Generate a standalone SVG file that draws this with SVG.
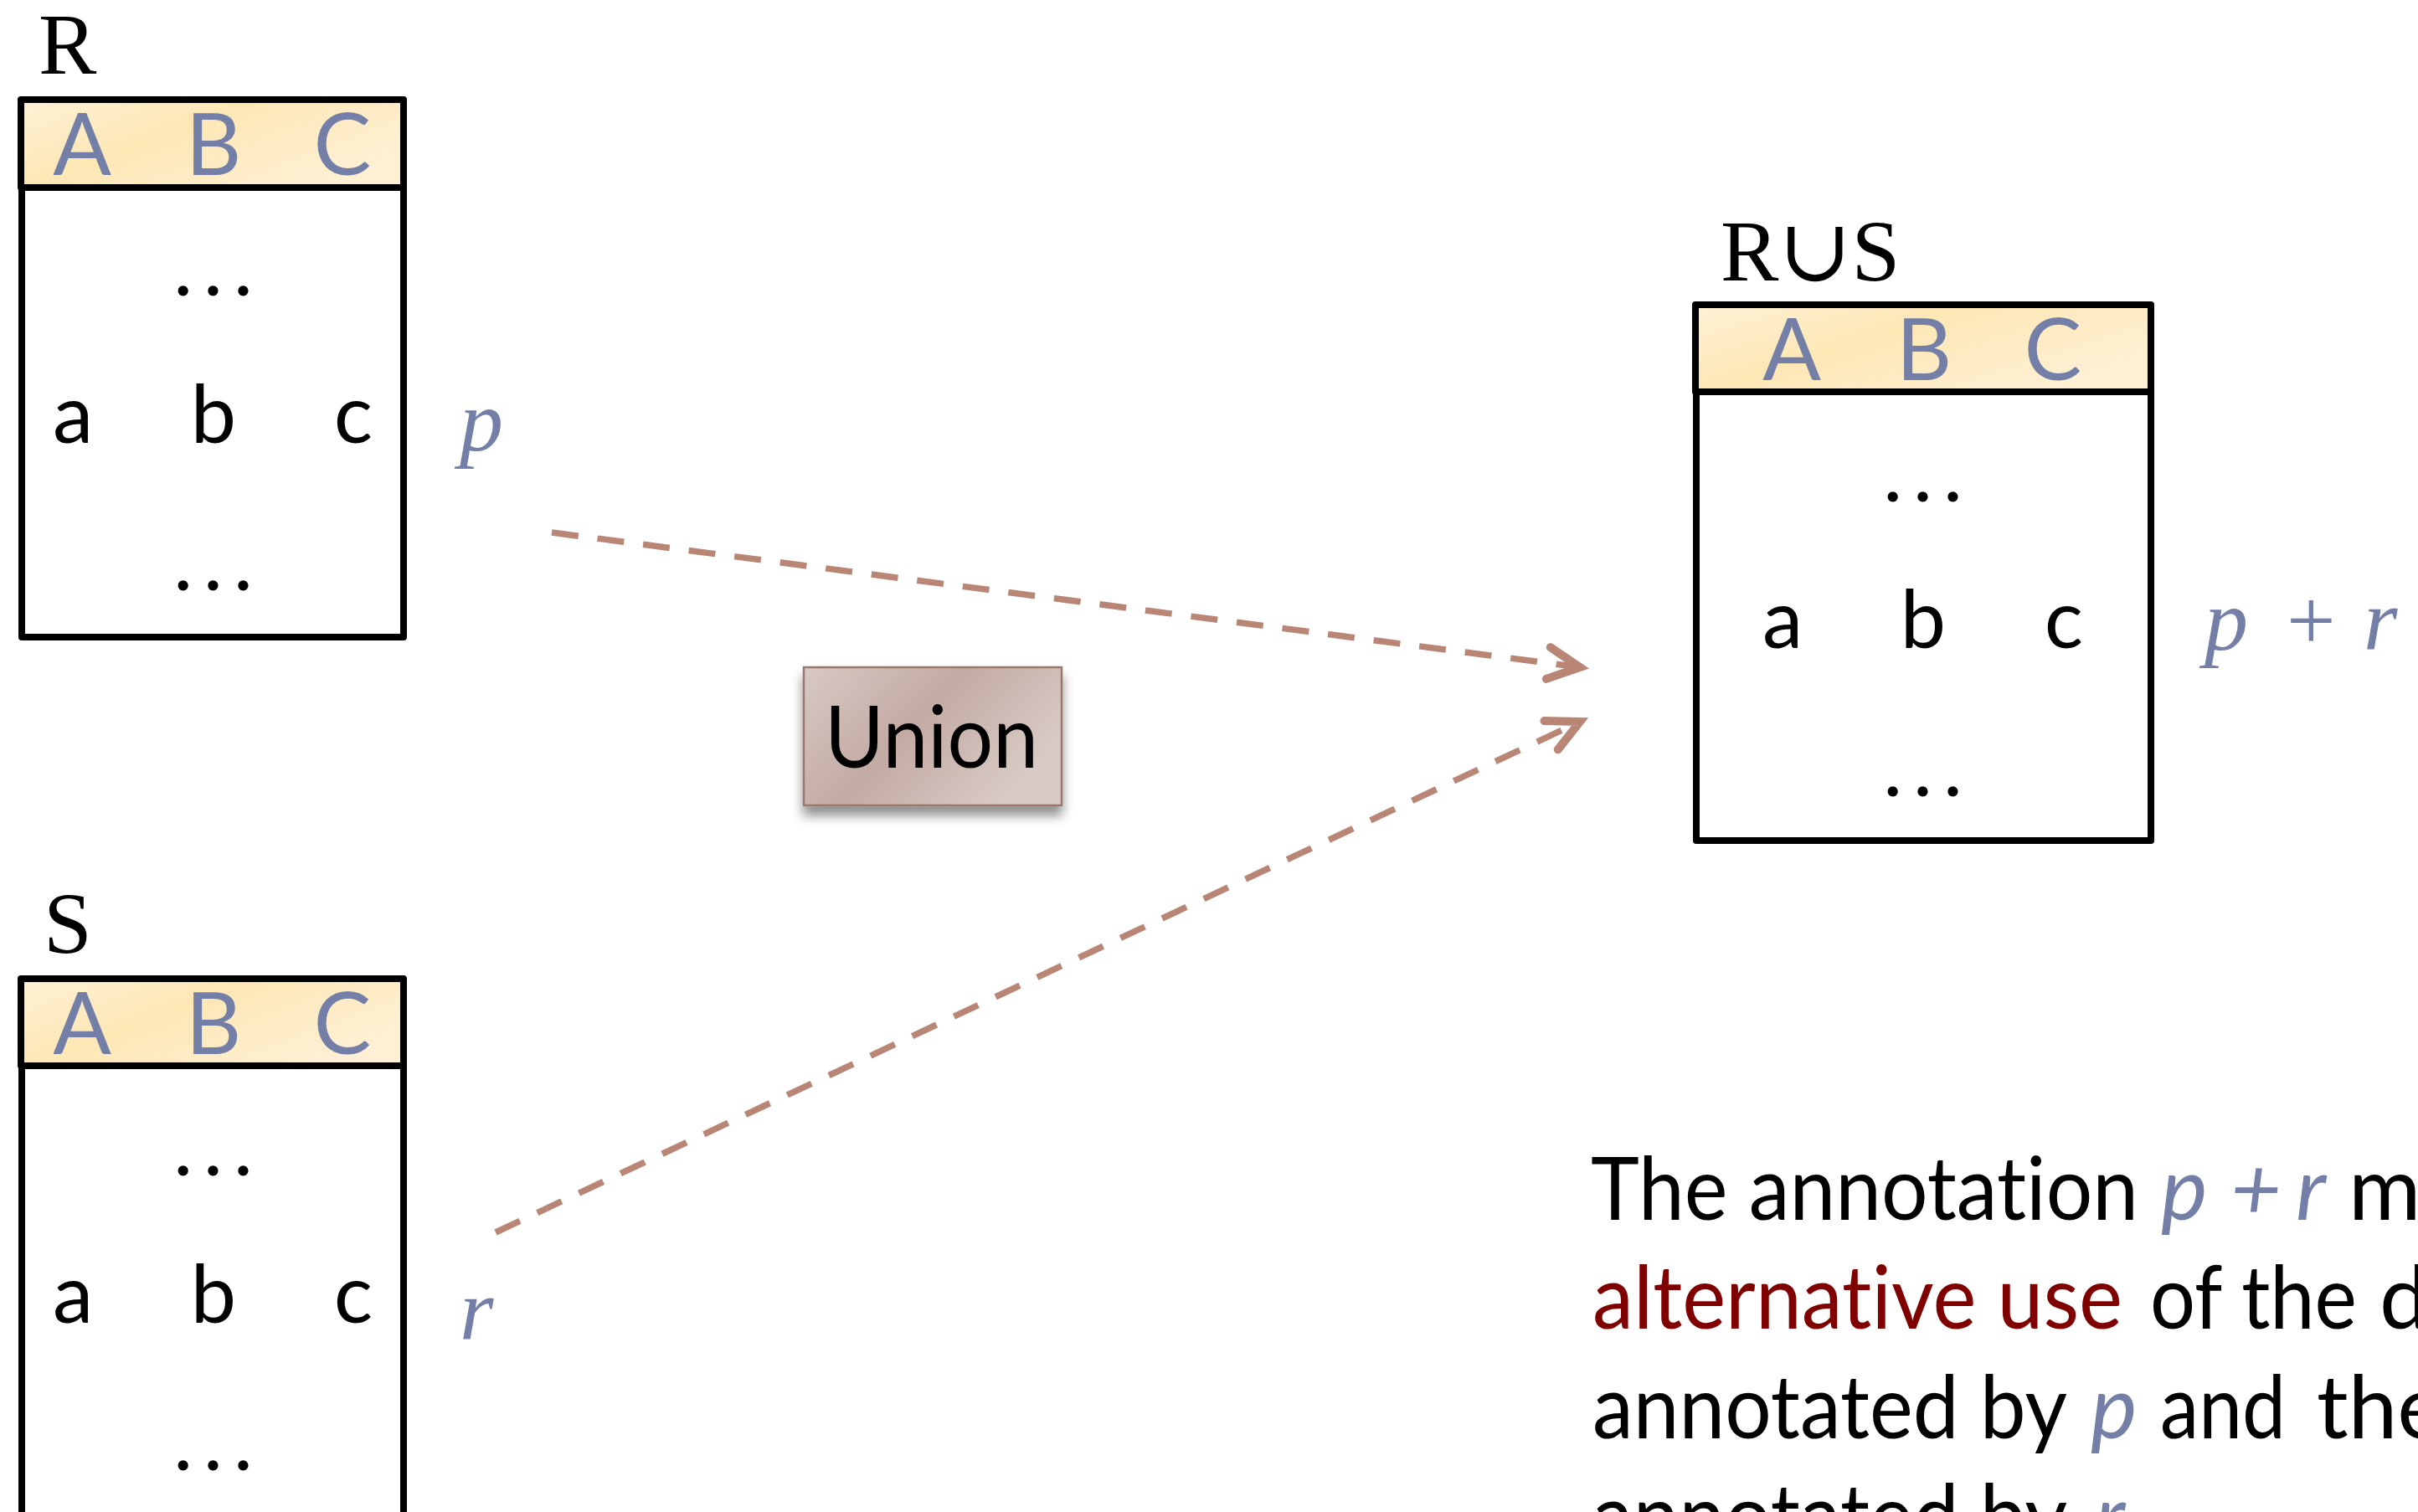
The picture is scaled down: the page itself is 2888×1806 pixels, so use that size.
<svg xmlns="http://www.w3.org/2000/svg" width="2888" height="1806" viewBox="0 0 2888 1806">
<defs>
<linearGradient id="hdr" x1="0" y1="0" x2="1" y2="0.6">
<stop offset="0" stop-color="#fff1d6"/>
<stop offset="0.45" stop-color="#fde7b5"/>
<stop offset="1" stop-color="#fff0d4"/>
</linearGradient>
<linearGradient id="uni" x1="0" y1="0" x2="1" y2="0.5">
<stop offset="0" stop-color="#d8c9c4"/>
<stop offset="0.5" stop-color="#c3aba3"/>
<stop offset="1" stop-color="#d9cac5"/>
</linearGradient>
<filter id="shadow" x="-20%" y="-20%" width="140%" height="150%">
<feGaussianBlur in="SourceAlpha" stdDeviation="7"/>
<feOffset dx="0" dy="11" result="b"/>
<feComponentTransfer><feFuncA type="linear" slope="0.45"/></feComponentTransfer>
<feMerge><feMergeNode/><feMergeNode in="SourceGraphic"/></feMerge>
</filter>
<marker id="chev" markerUnits="userSpaceOnUse" viewBox="-50 -30 60 60" refX="0" refY="0" markerWidth="60" markerHeight="60" orient="auto" overflow="visible">
<path d="M-38,-19 L0,0 L-38,19" fill="none" stroke="#b98676" stroke-width="10" stroke-dasharray="none" stroke-linecap="round" stroke-linejoin="miter"/>
</marker>
</defs>
<style>
text{font-variant-ligatures:none}
.frame{fill:#fff;stroke:#000;stroke-width:8;stroke-linejoin:round}
.head{fill:url(#hdr);stroke:#000;stroke-width:8;stroke-linejoin:round}
.hl{font-family:Lato,"Liberation Sans",sans-serif;font-size:103px;fill:#737fa6;text-anchor:middle}
.cell{font-family:Lato,"Liberation Sans",sans-serif;font-size:97px;fill:#000;text-anchor:middle}
.dots{font-family:Lato,"Liberation Sans",sans-serif;font-size:97px;fill:#000;text-anchor:middle;letter-spacing:13px}
.name{font-family:"Liberation Serif","DejaVu Serif",serif;font-size:104px;fill:#000}
.ann{font-family:"Liberation Serif","DejaVu Serif",serif;font-size:104px;fill:#737fa6;font-style:italic}
.annr{font-family:"Liberation Serif","DejaVu Serif",serif;font-size:104px;fill:#737fa6}
.body{font-family:Lato,"Open Sans",sans-serif;font-size:105px;fill:#000}
.red{fill:#800000}
.sl{fill:#737fa6;font-style:italic}
.conn{fill:none;stroke:#b98676;stroke-width:7.5;stroke-dasharray:32 23}
</style>

<g id="table-R">
<text class="name" x="46" y="88">R</text>
<rect class="frame" x="26" y="224" width="456" height="537"/>
<rect class="head" x="25" y="119" width="457" height="105"/>
<text class="hl" x="98" y="209">A</text>
<text class="hl" x="255" y="209">B</text>
<text class="hl" x="409" y="209">C</text>
<text class="dots" x="261" y="353">...</text>
<text class="cell" x="87" y="529">a</text>
<text class="cell" x="255" y="529">b</text>
<text class="cell" x="422" y="529">c</text>
<text class="dots" x="261" y="705">...</text>
<text class="ann" x="549" y="538">p</text>
</g>

<g id="table-S">
<text class="name" x="52" y="1138">S</text>
<rect class="frame" x="26" y="1273" width="456" height="549"/>
<rect class="head" x="25" y="1169" width="457" height="104"/>
<text class="hl" x="98" y="1259">A</text>
<text class="hl" x="255" y="1259">B</text>
<text class="hl" x="409" y="1259">C</text>
<text class="dots" x="261" y="1404">...</text>
<text class="cell" x="87" y="1580">a</text>
<text class="cell" x="255" y="1580">b</text>
<text class="cell" x="422" y="1580">c</text>
<text class="dots" x="261" y="1756">...</text>
<text class="ann" x="549" y="1600">r</text>
</g>

<g id="table-RuS">
<text class="name" x="2055" y="335">R∪S</text>
<rect class="frame" x="2026" y="468" width="543" height="536"/>
<rect class="head" x="2025" y="364" width="544" height="104"/>
<text class="hl" x="2140" y="454">A</text>
<text class="hl" x="2298" y="454">B</text>
<text class="hl" x="2452" y="454">C</text>
<text class="dots" x="2303" y="599">...</text>
<text class="cell" x="2129" y="774">a</text>
<text class="cell" x="2297" y="774">b</text>
<text class="cell" x="2465" y="774">c</text>
<text class="dots" x="2303" y="951">...</text>
<text class="ann" x="2633" y="776">p</text>
<text class="annr" x="2731" y="776">+</text>
<text class="ann" x="2823" y="776">r</text>
</g>

<g id="op-union">
<rect x="960" y="797" width="308" height="165" fill="url(#uni)" stroke="#98776e" stroke-width="2.5" filter="url(#shadow)"/>
<text x="985" y="917" font-family="Lato,'Liberation Sans',sans-serif" font-size="103" fill="#000" textLength="255" lengthAdjust="spacingAndGlyphs">Union</text>
</g>

<g id="connectors">
<line class="conn" x1="659" y1="636" x2="1887" y2="797" marker-end="url(#chev)"/>
<line class="conn" x1="592" y1="1472" x2="1887" y2="862" marker-end="url(#chev)"/>
</g>

<g id="caption">
<text class="body" x="1900" y="1457" textLength="654" lengthAdjust="spacingAndGlyphs">The annotation</text>
<text class="body sl" x="2581" y="1457">p</text>
<text class="body sl" x="2664" y="1457">+</text>
<text class="body sl" x="2742" y="1457">r</text>
<text class="body" x="2805" y="1457">m</text>
<text class="body red" x="1902" y="1587" textLength="633" lengthAdjust="spacingAndGlyphs">alternative use</text>
<text class="body" x="2568" y="1587" textLength="247" lengthAdjust="spacingAndGlyphs">of the</text>
<text class="body" x="2842" y="1587">d</text>
<text class="body" x="1902" y="1718" textLength="567" lengthAdjust="spacingAndGlyphs">annotated by</text>
<text class="body sl" x="2497" y="1718">p</text>
<text class="body" x="2580" y="1718" textLength="150" lengthAdjust="spacingAndGlyphs">and</text>
<text class="body" x="2767" y="1718">the</text>
<text class="body" x="1902" y="1848" textLength="567" lengthAdjust="spacingAndGlyphs">annotated by</text>
<text class="body sl" x="2502" y="1848">r</text>
</g>
</svg>
